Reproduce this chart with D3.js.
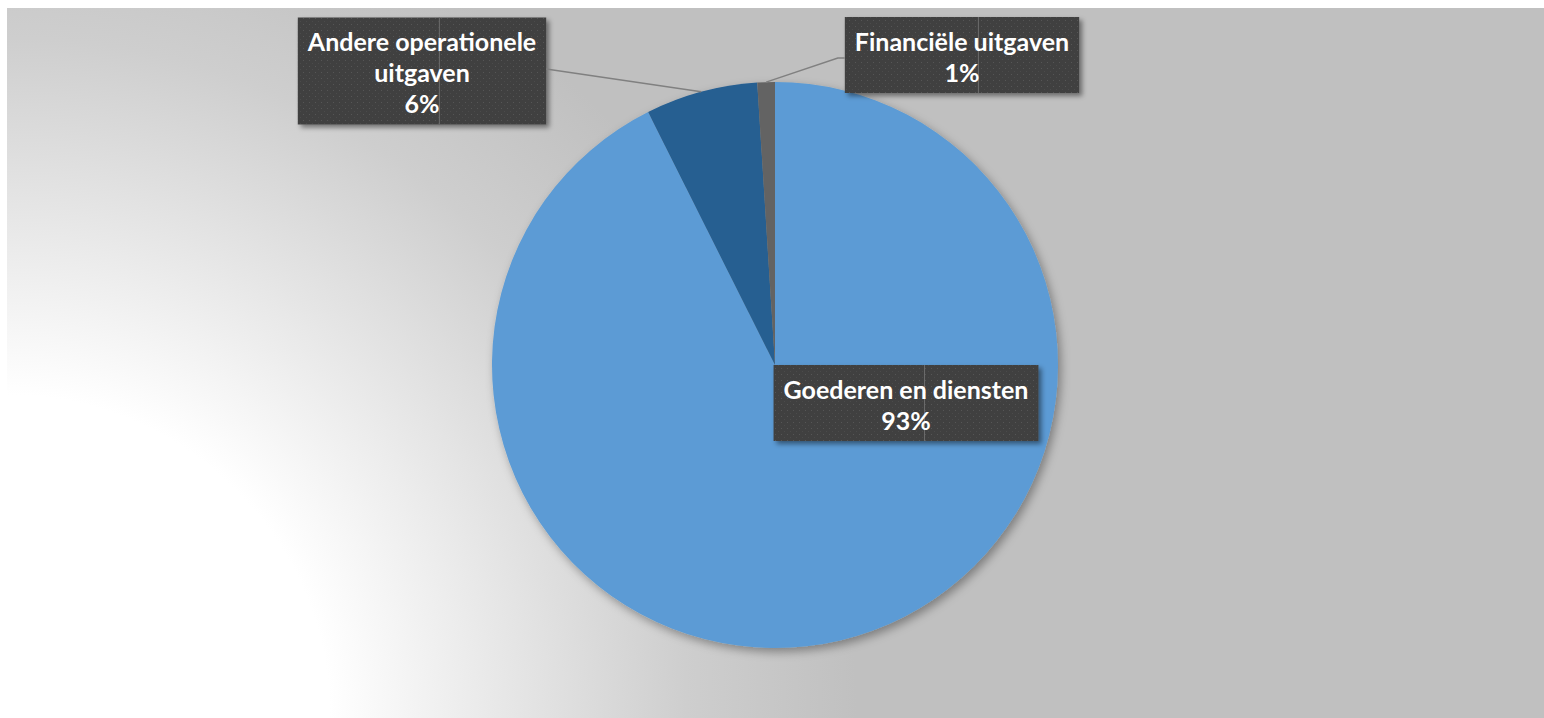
<!doctype html>
<html lang="nl">
<head>
<meta charset="utf-8">
<script src="https://cdn.jsdelivr.net/npm/d3@7"></script>
<style>
  html, body { margin: 0; padding: 0; background: #fff; }
  svg { display: block; }
  .lbl { font-family: Lato, "Open Sans", sans-serif; font-weight: 700; font-size: 25px; fill: #fff; }
</style>
</head>
<body>
<script>
// chart data (shares)
var categories = ["Goederen en diensten", "Andere operationele uitgaven", "Financiële uitgaven"];
var values = [92.6, 6.4, 1.0];
var pctLabels = ["93%", "6%", "1%"];
var colors = ["#5b9bd5", "#255e91", "#636363"];
// label text split over lines, as in the picture
var labelLines = [
  ["Goederen en diensten", "93%"],
  ["Andere operationele", "uitgaven", "6%"],
  ["Financiële uitgaven", "1%"]
];

var W = 1544, H = 718;
var cx = 775, cy = 365, R = 283;
// label box centres, relative to the pie centre
var labelOffsets = [[131, 38], [-353, -294], [187, -310]];
var lineH = 31;

var svg = d3.select("body").append("svg")
  .attr("width", W).attr("height", H);

var defs = svg.append("defs");

var grad = defs.append("radialGradient")
  .attr("id", "bg")
  .attr("gradientUnits", "userSpaceOnUse")
  .attr("cx", 7).attr("cy", 718).attr("r", 850);
grad.append("stop").attr("offset", 0).attr("stop-color", "#ffffff");
grad.append("stop").attr("offset", 0.38).attr("stop-color", "#ffffff");
grad.append("stop").attr("offset", 0.8).attr("stop-color", "#cecece");
grad.append("stop").attr("offset", 1).attr("stop-color", "#c0c0c0");

var shadow = defs.append("filter").attr("id", "shadow")
  .attr("x", "-20%").attr("y", "-20%").attr("width", "140%").attr("height", "140%");
shadow.append("feDropShadow")
  .attr("dx", 3).attr("dy", 4).attr("stdDeviation", 5)
  .attr("flood-color", "#000").attr("flood-opacity", 0.35);

var boxShadow = defs.append("filter").attr("id", "boxshadow")
  .attr("x", "-20%").attr("y", "-20%").attr("width", "140%").attr("height", "140%");
boxShadow.append("feDropShadow")
  .attr("dx", 3).attr("dy", 3).attr("stdDeviation", 2.5)
  .attr("flood-color", "#000").attr("flood-opacity", 0.45);

var pat = defs.append("pattern").attr("id", "dots")
  .attr("patternUnits", "userSpaceOnUse").attr("width", 6).attr("height", 6);
pat.append("rect").attr("width", 6).attr("height", 6).attr("fill", "#3f3f3f");
pat.append("rect").attr("x", 1).attr("y", 1).attr("width", 1).attr("height", 1).attr("fill", "#565656");
pat.append("rect").attr("x", 4).attr("y", 4).attr("width", 1).attr("height", 1).attr("fill", "#4c4c4c");

// chart area background
svg.append("rect")
  .attr("x", 7).attr("y", 8).attr("width", W - 7).attr("height", H - 8)
  .attr("fill", "url(#bg)");

var pie = d3.pie().sort(null).value(function(d){ return d; });
var arcs = pie(values);
var arc = d3.arc().innerRadius(0).outerRadius(R);

var g = svg.append("g").attr("transform", "translate(" + cx + "," + cy + ")");

g.append("g").attr("filter", "url(#shadow)")
  .selectAll("path")
  .data(arcs)
  .enter().append("path")
    .attr("d", arc)
    .attr("fill", function(d, i){ return colors[i]; });

// leader lines for the outside labels
var outer = d3.arc().innerRadius(R).outerRadius(R);
function leader(i, ends) {
  var c = outer.centroid(arcs[i]);
  var pts = [c].concat(ends);
  g.append("path")
    .attr("d", d3.line()(pts))
    .attr("fill", "none")
    .attr("stroke", "#808080")
    .attr("stroke-width", 1.5);
}

// labels
labelLines.forEach(function(lines, i) {
  var lx = labelOffsets[i][0], ly = labelOffsets[i][1];
  var lg = g.append("g").attr("transform", "translate(" + lx + "," + ly + ")");
  var box = lg.append("rect").attr("fill", "url(#dots)").attr("filter", "url(#boxshadow)");
  var sep = lg.append("line").attr("stroke", "#6c6c6c").attr("stroke-width", 1);
  var h = lines.length * lineH + 14;
  var t = lg.selectAll("text").data(lines).enter().append("text")
    .attr("class", "lbl")
    .attr("text-anchor", "middle")
    .attr("dominant-baseline", "central")
    .attr("x", 0)
    .attr("y", function(d, k){ return (k - (lines.length - 1) / 2) * lineH + 1; })
    .text(function(d){ return d; });
  var tw = 0;
  t.each(function(){ tw = Math.max(tw, this.getComputedTextLength()); });
  var w = tw + 20;
  box.attr("x", -w / 2).attr("y", -h / 2).attr("width", w).attr("height", h);
  sep.attr("x1", -w / 2 + w * 0.57).attr("x2", -w / 2 + w * 0.57)
     .attr("y1", -h / 2).attr("y2", h / 2);
  labelOffsets[i].push(w, h);
});

// leader lines, joined to the measured boxes
var a = labelOffsets[1];
leader(1, [[a[0] + a[2] / 2, a[1] - 2]]);
var f = labelOffsets[2];
leader(2, [[f[0] - f[2] / 2 - 7, f[1] + 3], [f[0] - f[2] / 2, f[1] + 3]]);
</script>
</body>
</html>
